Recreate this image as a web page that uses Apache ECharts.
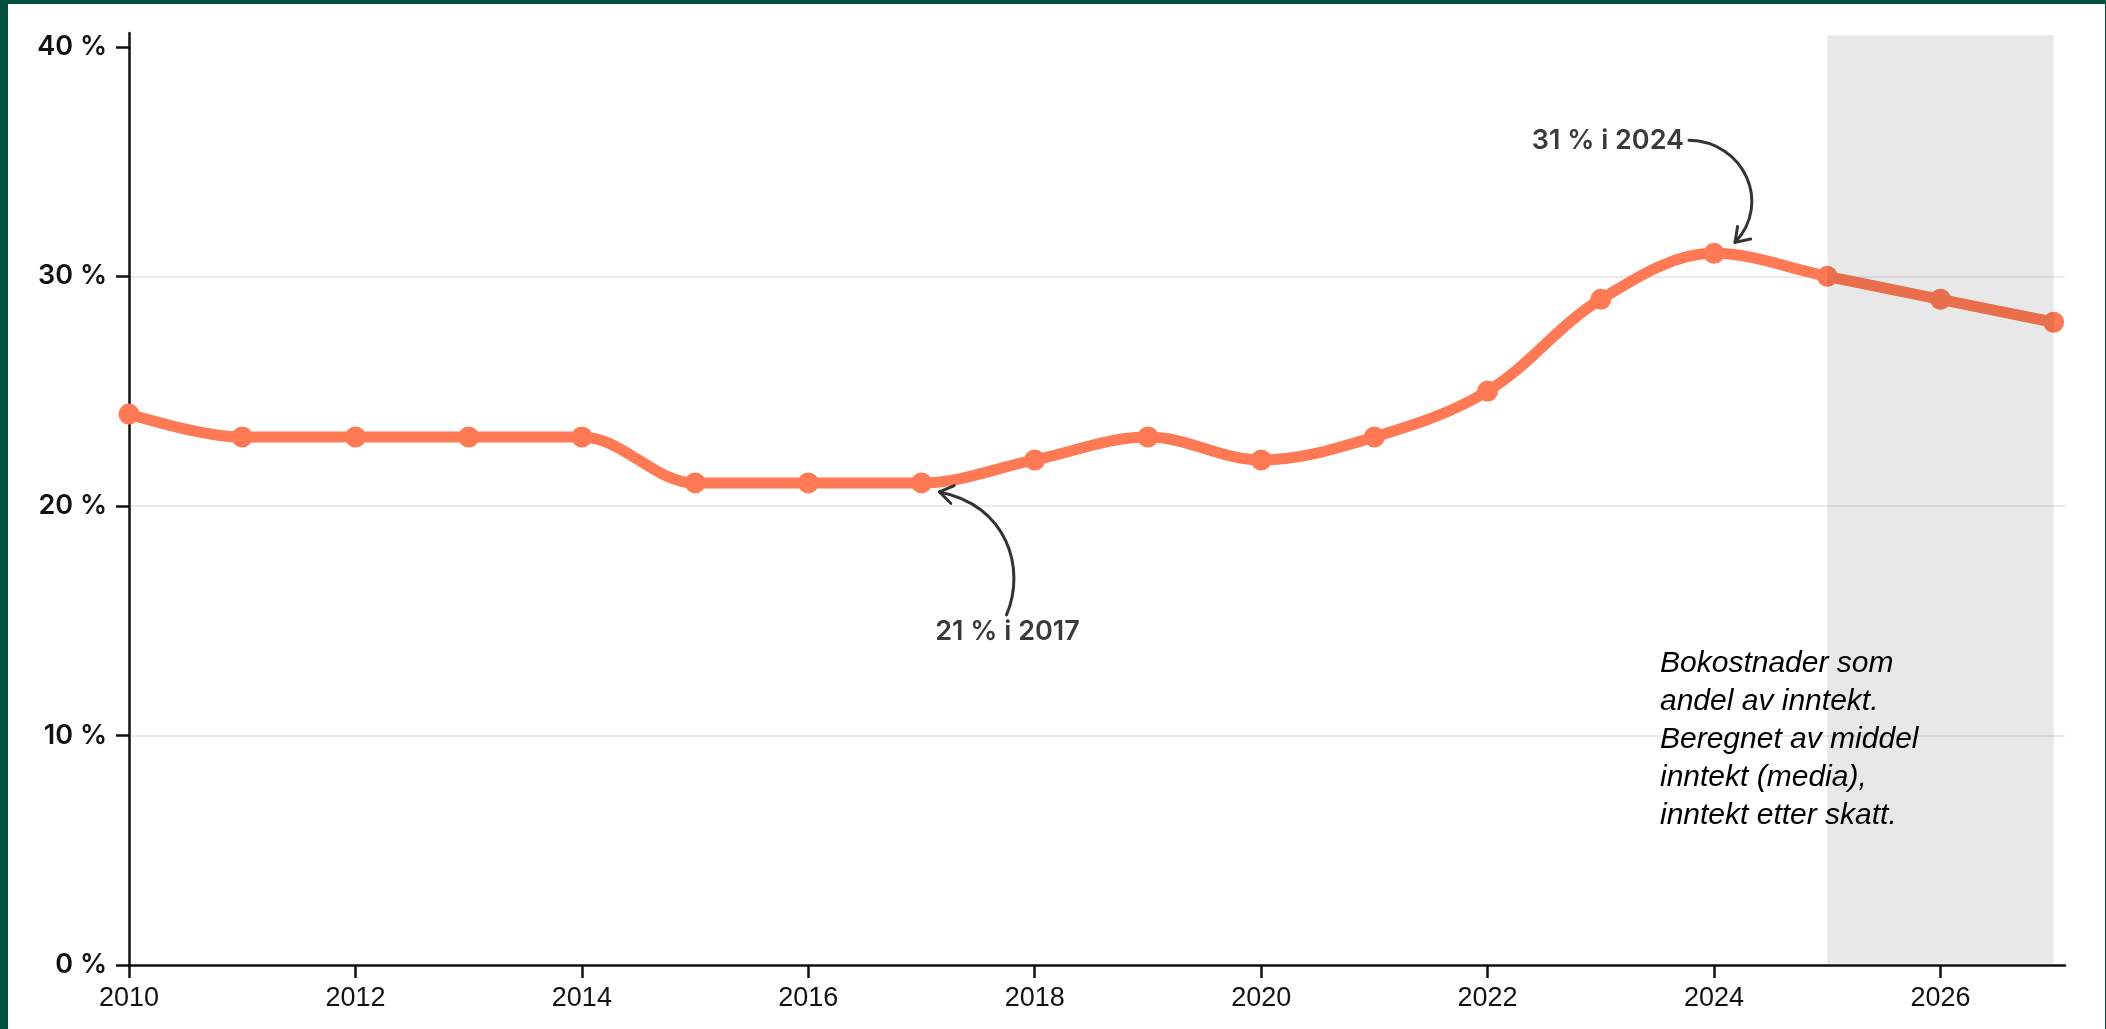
<!DOCTYPE html>
<html><head><meta charset="utf-8">
<script src="https://cdn.jsdelivr.net/npm/echarts@6/dist/echarts.min.js"></script>
<style>
html,body{margin:0;padding:0;background:#fff;overflow:hidden;}
#c{position:absolute;left:0;top:0;width:2106px;height:1029px;}
.b{position:absolute;background:#02503f;}
</style></head><body>
<div id="c"></div>
<div class="b" style="left:0;top:0;width:8px;height:1029px"></div>
<div class="b" style="left:0;top:0;width:2106px;height:4px"></div>
<div class="b" style="right:0;top:0;width:1px;height:1029px"></div>
<script>
const years = [2010,2011,2012,2013,2014,2015,2016,2017,2018,2019,2020,2021,2022,2023,2024,2025,2026,2027];
const shares = [24,23,23,23,23,21,21,21,22,23,22,23,25,29,31,30,29,28];
const yTicks = [0,10,20,30,40];
const xTicks = [2010,2012,2014,2016,2018,2020,2022,2024,2026];
const forecastYears = [2025,2027];
const annotationLow = {year:2017, value:21, text:'21 % i 2017'};
const annotationHigh = {year:2024, value:31, text:'31 % i 2024'};
const noteText = 'Bokostnader som\nandel av inntekt.\nBeregnet av middel\ninntekt (media),\ninntekt etter skatt.';

const chart = echarts.init(document.getElementById('c'), null, {renderer:'canvas'});
const data = years.map((y,i)=>[y, shares[i]]);
const LINE = '#ff7954';

chart.setOption({
  animation:false,
  backgroundColor:'#fff',
  grid:{left:129, top:33, right:41, bottom:64, containLabel:false},
  xAxis:{
    type:'value', min:2010, max:2027.1, interval:2, z:10,
    axisLine:{show:true, lineStyle:{color:'#111', width:2.5}},
    axisTick:{show:true, length:13, lineStyle:{color:'#111', width:2.5}, customValues:xTicks},
    axisLabel:{customValues:xTicks, margin:20, color:'#111', fontSize:27, fontFamily:'"Liberation Sans", Arial, sans-serif',
      formatter:v=> xTicks.includes(v) ? String(v) : ''},
    splitLine:{show:false}
  },
  yAxis:{
    type:'value', min:0, max:40.6, interval:10,
    axisLine:{show:true, lineStyle:{color:'#111', width:2.5}},
    axisTick:{show:true, length:13, lineStyle:{color:'#111', width:2.5}, customValues:yTicks},
    axisLabel:{customValues:yTicks, margin:22, color:'#111', fontSize:27, fontWeight:600, fontFamily:'Inter, sans-serif',
      formatter:v=> yTicks.includes(v) ? v + ' %' : ''},
    splitLine:{show:true, showMinLine:false, showMaxLine:false, lineStyle:{color:'#ebebeb', width:2}}
  },
  series:[
    {
      type:'line', data:data, z:2,
      smooth:0.35,
      symbol:'circle', symbolSize:21,
      lineStyle:{color:LINE, width:11},
      itemStyle:{color:LINE}
    },
    {
      type:'custom', z:5, silent:true,
      data:[[forecastYears[0], forecastYears[1]]],
      renderItem:function(params, api){
        const p0 = api.coord([api.value(0), 40.5]);
        const p1 = api.coord([api.value(1), 0]);
        return {type:'rect', shape:{x:p0[0], y:p0[1], width:p1[0]-p0[0], height:p1[1]-p0[1]-1.5},
          style:{fill:'rgba(0,0,0,0.09)'}};
      }
    }
  ]
});

function arrow(P0,P1,P2,P3){
  const ang = Math.atan2(P3[1]-P2[1], P3[0]-P2[0]);
  const L = 16, spread = 0.6;
  const a = [P3[0]-L*Math.cos(ang-spread), P3[1]-L*Math.sin(ang-spread)];
  const b = [P3[0]-L*Math.cos(ang+spread), P3[1]-L*Math.sin(ang+spread)];
  return [
    {type:'bezierCurve', z:20, shape:{x1:P0[0],y1:P0[1],cpx1:P1[0],cpy1:P1[1],cpx2:P2[0],cpy2:P2[1],x2:P3[0],y2:P3[1]},
      style:{stroke:'#333', lineWidth:3, fill:null, lineCap:'round'}},
    {type:'polyline', z:20, shape:{points:[a,P3,b]}, style:{stroke:'#333', lineWidth:3, fill:null, lineCap:'round', lineJoin:'round'}}
  ];
}

const hi = chart.convertToPixel({seriesIndex:0}, [annotationHigh.year, annotationHigh.value]);
const lo = chart.convertToPixel({seriesIndex:0}, [annotationLow.year, annotationLow.value]);
const annFont = '600 27px Inter, sans-serif';
let els = [];
els.push({type:'text', z:20, x:hi[0]-30, y:hi[1]-112, style:{text:annotationHigh.text, font:annFont, fill:'#3a3a3a', align:'right', verticalAlign:'middle'}});
els = els.concat(arrow([hi[0]-25,hi[1]-113],[hi[0]+30,hi[1]-112],[hi[0]+58,hi[1]-50],[hi[0]+21,hi[1]-11]));
els.push({type:'text', z:20, x:lo[0]+86, y:lo[1]+149, style:{text:annotationLow.text, font:annFont, fill:'#3a3a3a', align:'center', verticalAlign:'middle'}});
els = els.concat(arrow([lo[0]+85,lo[1]+132],[lo[0]+105,lo[1]+85],[lo[0]+85,lo[1]+22],[lo[0]+18,lo[1]+9]));
els.push({type:'text', z:20, left:1660, top:645, style:{text:noteText, font:'italic 30px "Liberation Sans", Arial, sans-serif', lineHeight:38, fill:'#000'}});
chart.setOption({graphic:{elements:els}});
</script>
</body></html>
